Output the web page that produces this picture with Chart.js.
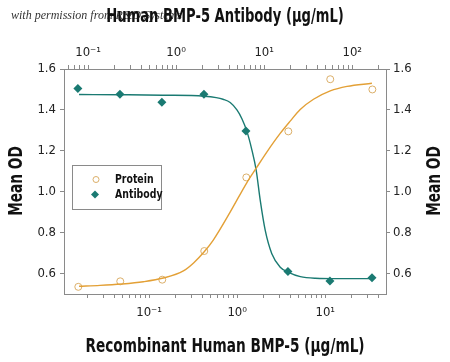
<!doctype html>
<html>
<head>
<meta charset="UTF-8">
<title>BMP-5 Antibody</title>
<script src="https://cdn.jsdelivr.net/npm/chart.js@4.4.0/dist/chart.umd.min.js"></script>
<style>
  body { margin: 0; background: #fff; }
  #wrap { width: 450px; height: 362px; position: relative; }
</style>
</head>
<body>
<div id="wrap"><canvas id="myChart"></canvas></div>

<script>
// recombinant protein (bottom axis, ug/mL)
var proteinConc = [0.0157, 0.047, 0.141, 0.423, 1.27, 3.81, 11.4, 34.3];
var proteinOD = [0.535, 0.562, 0.57, 0.71, 1.07, 1.295, 1.55, 1.50];
// fitted curve
var proteinFitX = [0.016, 0.0277, 0.049, 0.086, 0.145, 0.245, 0.32, 0.42, 0.538, 0.832, 1.29, 1.645, 2.18, 3.08, 4.0, 5.2, 7.36, 11.4, 17.7, 33.9];
var proteinFitY = [0.538, 0.542, 0.549, 0.56, 0.578, 0.613, 0.652, 0.705, 0.765, 0.9, 1.045, 1.115, 1.195, 1.285, 1.345, 1.402, 1.452, 1.493, 1.515, 1.53];

// antibody (top axis, ug/mL)
var antibodyConc = [0.0766, 0.23, 0.689, 2.07, 6.2, 18.6, 55.8, 167.5];
var antibodyOD = [1.505, 1.477, 1.437, 1.477, 1.297, 0.61, 0.563, 0.58];
var antibodyFitX = [0.079, 0.241, 0.706, 2.08, 2.85, 3.4, 4.11, 4.9, 5.58, 6.36, 7.24, 8.11, 9.0, 10.26, 12.2, 15.2, 18.9, 25.7, 38, 73, 167.5];
var antibodyFitY = [1.475, 1.474, 1.472, 1.467, 1.46, 1.452, 1.436, 1.4, 1.357, 1.295, 1.205, 1.105, 0.96, 0.812, 0.697, 0.631, 0.606, 0.585, 0.577, 0.575, 0.575];

var yTicks = [0.6, 0.8, 1.0, 1.2, 1.4, 1.6];
var bottomDecades = [0.1, 1, 10];
var bottomLabels = ['10\u207B\u00B9', '10\u2070', '10\u00B9'];
var topDecades = [0.1, 1, 10, 100];
var topLabels = ['10\u207B\u00B9', '10\u2070', '10\u00B9', '10\u00B2'];

var topTitle = 'Human BMP-5 Antibody (\u00B5g/mL)';
var bottomTitle = 'Recombinant Human BMP-5 (\u00B5g/mL)';
var yTitle = 'Mean OD';

var orange = '#e3a036';
var orangePt = '#dcb06a';
var teal = '#1a7a72';
var axisGray = '#8a8a8a';
var narrow = '"DejaVu Sans Condensed", "Liberation Sans Narrow", sans-serif';

function pts(xs, ys) {
  var out = [];
  for (var i = 0; i < xs.length; i++) out.push({x: xs[i], y: ys[i]});
  return out;
}

function logTicks(min, max) {
  var t = [];
  for (var e = -3; e <= 3; e++) {
    for (var m = 1; m <= 9; m++) {
      var v = m * Math.pow(10, e);
      if (v >= min && v <= max) t.push({value: v});
    }
  }
  return t;
}

function decadeLabel(decades, labels) {
  return function (val) {
    for (var i = 0; i < decades.length; i++) {
      if (Math.abs(val - decades[i]) / decades[i] < 1e-6) return labels[i];
    }
    return '';
  };
}

// condensed text: squeeze horizontally around (x, y)
function narrowText(ctx, text, x, y, rot, font, sx) {
  ctx.save();
  ctx.translate(x, y);
  ctx.rotate(rot);
  ctx.scale(sx, 1);
  ctx.font = font;
  ctx.textAlign = 'center';
  ctx.textBaseline = 'middle';
  ctx.fillText(text, 0, 0);
  ctx.restore();
}

var extras = {
  id: 'extras',
  beforeDraw: function (chart) {
    var ctx = chart.ctx;
    ctx.save();
    ctx.fillStyle = '#fff';
    ctx.fillRect(0, 0, chart.width, chart.height);
    ctx.fillStyle = '#333';
    ctx.font = 'italic 12px "Liberation Serif", serif';
    ctx.textBaseline = 'middle';
    ctx.fillText('with permission from R&D Systems', 11, 16);
    ctx.restore();
  },
  afterDraw: function (chart) {
    var ctx = chart.ctx;
    var tf = 'bold 20px ' + narrow;
    ctx.save();
    ctx.fillStyle = '#111';
    narrowText(ctx, topTitle, 225, 17, 0, tf, 0.73);
    narrowText(ctx, bottomTitle, 225, 347, 0, tf, 0.76);
    narrowText(ctx, yTitle, 17, 181, -Math.PI / 2, tf, 0.76);
    narrowText(ctx, yTitle, 435, 181, -Math.PI / 2, tf, 0.76);
    ctx.restore();

    // legend box
    ctx.save();
    ctx.fillStyle = '#fff';
    ctx.strokeStyle = axisGray;
    ctx.lineWidth = 1;
    ctx.fillRect(72.5, 165.5, 89, 44);
    ctx.strokeRect(72.5, 165.5, 89, 44);
    ctx.beginPath();
    ctx.arc(96, 179.5, 3, 0, Math.PI * 2);
    ctx.strokeStyle = orangePt;
    ctx.stroke();
    ctx.beginPath();
    ctx.moveTo(95, 190.5); ctx.lineTo(99, 194.5); ctx.lineTo(95, 198.5); ctx.lineTo(91, 194.5);
    ctx.closePath();
    ctx.fillStyle = teal;
    ctx.fill();
    ctx.fillStyle = '#111';
    ctx.font = 'bold 13px ' + narrow;
    ctx.textBaseline = 'middle';
    ctx.save(); ctx.translate(115, 179.5); ctx.scale(0.8, 1); ctx.fillText('Protein', 0, 0); ctx.restore();
    ctx.save(); ctx.translate(115, 195); ctx.scale(0.8, 1); ctx.fillText('Antibody', 0, 0); ctx.restore();
    ctx.restore();
  }
};

var tickFont = { family: narrow, size: 13 };

var ctx = document.getElementById('myChart').getContext('2d');
var myChart = new Chart(ctx, {
  type: 'scatter',
  data: {
    datasets: [{
      label: 'Protein fit',
      data: pts(proteinFitX, proteinFitY),
      xAxisID: 'x', yAxisID: 'y',
      showLine: true, pointRadius: 0,
      borderColor: orange, borderWidth: 1.4,
      cubicInterpolationMode: 'monotone'
    }, {
      label: 'Antibody fit',
      data: pts(antibodyFitX, antibodyFitY),
      xAxisID: 'x2', yAxisID: 'y',
      showLine: true, pointRadius: 0,
      borderColor: teal, borderWidth: 1.4,
      cubicInterpolationMode: 'monotone'
    }, {
      label: 'Protein',
      data: pts(proteinConc, proteinOD),
      xAxisID: 'x', yAxisID: 'y',
      pointStyle: 'circle', pointRadius: 3.5, borderWidth: 1,
      borderColor: orangePt, backgroundColor: '#fff'
    }, {
      label: 'Antibody',
      data: pts(antibodyConc, antibodyOD),
      xAxisID: 'x2', yAxisID: 'y',
      pointStyle: 'rectRot', pointRadius: 4.5, borderWidth: 0,
      backgroundColor: teal, borderColor: teal
    }]
  },
  options: {
    responsive: true,
    maintainAspectRatio: false,
    animation: false,
    layout: { padding: 0 },
    plugins: { legend: { display: false }, tooltip: { enabled: false } },
    scales: {
      x: {
        type: 'logarithmic', position: 'bottom', min: 0.0108, max: 49,
        afterBuildTicks: function (s) { s.ticks = logTicks(s.min, s.max); },
        afterFit: function (s) { s.height = 68; },
        grid: { drawOnChartArea: false, tickLength: 4, color: axisGray },
        border: { color: axisGray },
        ticks: { autoSkip: false, maxRotation: 0, padding: 7, color: '#222',
          font: tickFont, callback: decadeLabel(bottomDecades, bottomLabels) }
      },
      x2: {
        type: 'logarithmic', position: 'top', min: 0.0533, max: 241.5,
        afterBuildTicks: function (s) { s.ticks = logTicks(s.min, s.max); },
        afterFit: function (s) { s.height = 69; },
        grid: { drawOnChartArea: false, tickLength: 4, color: axisGray },
        border: { color: axisGray },
        ticks: { autoSkip: false, maxRotation: 0, padding: 5, color: '#222',
          font: tickFont, callback: decadeLabel(topDecades, topLabels) }
      },
      y: {
        position: 'left', min: 0.5, max: 1.6,
        afterBuildTicks: function (s) { s.ticks = yTicks.map(function (v) { return {value: v}; }); },
        afterFit: function (s) { s.width = 64; },
        grid: { drawOnChartArea: false, tickLength: 4, color: axisGray },
        border: { color: axisGray },
        ticks: { padding: 4, color: '#222', font: tickFont,
          callback: function (v) { return v.toFixed(1); } }
      },
      y2: {
        position: 'right', min: 0.5, max: 1.6,
        afterBuildTicks: function (s) { s.ticks = yTicks.map(function (v) { return {value: v}; }); },
        afterFit: function (s) { s.width = 64; },
        grid: { drawOnChartArea: false, tickLength: 4, color: axisGray },
        border: { color: axisGray },
        ticks: { padding: 3, color: '#222', font: tickFont,
          callback: function (v) { return v.toFixed(1); } }
      }
    }
  },
  plugins: [extras]
});
</script>
</body>
</html>
